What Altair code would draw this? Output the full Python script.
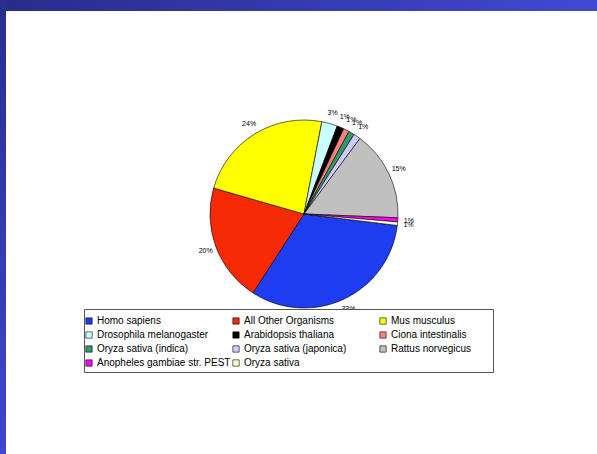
import math
import altair as alt
import pandas as pd

organisms = [
    "Homo sapiens", "All Other Organisms", "Mus musculus",
    "Drosophila melanogaster", "Arabidopsis thaliana", "Ciona intestinalis",
    "Oryza sativa (indica)", "Oryza sativa (japonica)", "Rattus norvegicus",
    "Anopheles gambiae str. PEST", "Oryza sativa",
]
percent = [32.2, 20.3, 23.6, 2.7, 1.2, 1.0, 1.0, 1.2, 15.5, 0.7, 0.6]
labels = ["33%", "20%", "24%", "3%", "1%", "1%", "1%", "1%", "15%", "1%", "1%"]
colors = [
    "#1E3CF0", "#F52A05", "#FFFF00", "#CCFFFF", "#000000", "#FF8080",
    "#339966", "#CCCCFF", "#C0C0C0", "#FF00FF", "#FFFFCC",
]

df = pd.DataFrame({
    "organism": organisms,
    "percent": percent,
    "label": labels,
    "idx": list(range(len(organisms))),
})

# legend fills column by column (4 rows); reorder so it reads row by row
ROWS, COLS = 4, 3
legend_order = []
for c in range(COLS):
    for r in range(ROWS):
        i = r * COLS + c
        if i < len(organisms):
            legend_order.append(i)
legend_domain = [organisms[i] for i in legend_order]
legend_range = [colors[i] for i in legend_order]

W, H = 597, 454
CX, CY = 304, 214
R = 94
start = math.radians(97)
theta_scale = alt.Scale(range=[start, start + 2 * math.pi])
FONT = "Liberation Sans"

base = alt.Chart(df).encode(
    theta=alt.Theta("percent:Q", stack=True, scale=theta_scale),
    order=alt.Order("idx:Q"),
    x=alt.value(CX),
    y=alt.value(CY),
)

pie = base.mark_arc(radius=R, stroke="black", strokeWidth=0.6).encode(
    color=alt.Color(
        "organism:N",
        scale=alt.Scale(domain=legend_domain, range=legend_range),
        legend=alt.Legend(
            title=None,
            orient="none",
            legendX=84,
            legendY=316,
            columns=3,
            gridAlign="all",
            symbolType="square",
            symbolSize=40,
            symbolStrokeColor="black",
            symbolStrokeWidth=0.6,
            symbolOpacity=1,
            labelFont=FONT,
            labelFontSize=10,
            labelColor="black",
            labelOffset=3,
            rowPadding=4,
            columnPadding=0,
            labelLimit=300,
        ),
    ),
)

text = base.mark_text(
    radius=105, font=FONT, fontSize=7, color="black"
).encode(text="label:N")

bar_df = pd.DataFrame({"k": [0]})
top_bar = alt.Chart(bar_df).mark_rect(
    color=alt.Gradient(
        gradient="linear",
        stops=[alt.GradientStop(color="#282c8a", offset=0),
               alt.GradientStop(color="#4149d3", offset=1)],
        x1=0, x2=1, y1=0, y2=0,
    )
).encode(x=alt.value(0), x2=alt.value(W), y=alt.value(0), y2=alt.value(11))

left_bar = alt.Chart(bar_df).mark_rect(
    color=alt.Gradient(
        gradient="linear",
        stops=[alt.GradientStop(color="#2a2e8e", offset=0),
               alt.GradientStop(color="#3f46cf", offset=1)],
        x1=0, x2=0, y1=0, y2=1,
    )
).encode(x=alt.value(0), x2=alt.value(6), y=alt.value(0), y2=alt.value(H))

legend_box = alt.Chart(bar_df).mark_rect(
    fill="white", stroke="#555555", strokeWidth=1
).encode(x=alt.value(84.5), x2=alt.value(493.5), y=alt.value(309.5), y2=alt.value(372.5))

chart = alt.layer(top_bar, left_bar, pie, text, legend_box).properties(
    width=W, height=H, padding=0, autosize=alt.AutoSizeParams(type="none"),
    background="white",
).configure_view(stroke=None)

chart.save("out.html", embed_options={"renderer": "svg", "actions": False})
